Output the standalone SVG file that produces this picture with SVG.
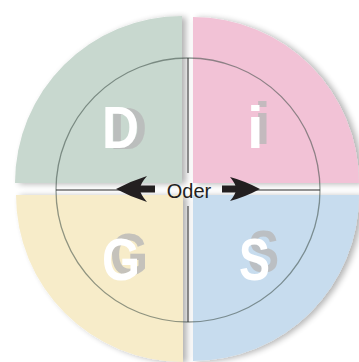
<svg xmlns="http://www.w3.org/2000/svg" width="359" height="362" viewBox="0 0 359 362">
<defs>
<filter id="sh" x="-10%" y="-10%" width="130%" height="130%">
<feGaussianBlur in="SourceAlpha" stdDeviation="3"/>
<feOffset dx="4" dy="1" result="b"/>
<feComponentTransfer><feFuncA type="linear" slope="0.3"/></feComponentTransfer>
<feMerge><feMergeNode/><feMergeNode in="SourceGraphic"/></feMerge>
</filter>
<filter id="tD" x="-20%" y="-20%" width="160%" height="160%" color-interpolation-filters="sRGB">
<feOffset in="SourceAlpha" dx="8" dy="1"/>
<feColorMatrix type="matrix" values="0 0 0 0 0.72 0 0 0 0 0.72 0 0 0 0 0.72 0 0 0 0.8 0"/>
<feMerge><feMergeNode/><feMergeNode in="SourceGraphic"/></feMerge>
</filter>
<filter id="ti" x="-50%" y="-20%" width="200%" height="160%" color-interpolation-filters="sRGB">
<feOffset in="SourceAlpha" dx="7" dy="-4"/>
<feColorMatrix type="matrix" values="0 0 0 0 0.72 0 0 0 0 0.72 0 0 0 0 0.72 0 0 0 0.8 0"/>
<feMerge><feMergeNode/><feMergeNode in="SourceGraphic"/></feMerge>
</filter>
<filter id="tG" x="-20%" y="-30%" width="160%" height="160%" color-interpolation-filters="sRGB">
<feOffset in="SourceAlpha" dx="8" dy="-5"/>
<feColorMatrix type="matrix" values="0 0 0 0 0.72 0 0 0 0 0.72 0 0 0 0 0.72 0 0 0 0.8 0"/>
<feMerge><feMergeNode/><feMergeNode in="SourceGraphic"/></feMerge>
</filter>
<filter id="tS" x="-20%" y="-30%" width="160%" height="160%" color-interpolation-filters="sRGB">
<feOffset in="SourceAlpha" dx="9" dy="-8"/>
<feColorMatrix type="matrix" values="0 0 0 0 0.72 0 0 0 0 0.72 0 0 0 0 0.72 0 0 0 0.8 0"/>
<feMerge><feMergeNode/><feMergeNode in="SourceGraphic"/></feMerge>
</filter>
<style>
.big{font-family:"Liberation Sans",Arial,sans-serif;font-weight:bold;font-size:60px;fill:#ffffff}
.ln{stroke:#2b2b2b;stroke-width:1;fill:none}
.arr{fill:#231f20}
</style>
</defs>
<rect width="359" height="362" fill="#ffffff"/>
<g id="quadrant-D">
<path d="M182,183 L15,183 A167,167 0 0 1 182,16 Z" fill="#c8d8cf" filter="url(#sh)"/>
</g>
<g id="quadrant-i">
<path d="M193,183 V17 A166,166 0 0 1 359,183 Z" fill="#f2c2d6" filter="url(#sh)"/>
</g>
<g id="quadrant-G">
<path d="M183,195 H16 A167,167 0 0 0 183,362 Z" fill="#f7ecc9" filter="url(#sh)"/>
</g>
<g id="quadrant-S">
<path d="M193,195 H359 A166,166 0 0 1 193,361 Z" fill="#c7dcee" filter="url(#sh)"/>
</g>
<circle cx="188" cy="190" r="132" fill="none" stroke="#3a4a44" stroke-opacity="0.55" stroke-width="1.3"/>
<g id="connectors">
<path class="ln" d="M56,190 H150 M228,190 H320 M188,58 V173 M188,206 V322"/>
<path class="arr" d="M116,189 Q131,181 147,176 Q140,184 140,189 Q140,194 147,202 Q131,197 116,189 Z"/>
<rect class="arr" x="139" y="185.5" width="16" height="7"/>
<rect class="arr" x="222" y="185.5" width="14" height="7"/>
<path class="arr" d="M260,189 Q245,181 230,177 Q236,184 236,189 Q236,194 230,201 Q245,197 260,189 Z"/>
</g>
<g id="label-oder">
<text x="189" y="198" text-anchor="middle" font-family="'Liberation Sans',Arial,sans-serif" font-size="20" fill="#231f20">Oder</text>
</g>
<g id="letter-D">
<text class="big" x="102" y="148" textLength="37" lengthAdjust="spacingAndGlyphs" filter="url(#tD)">D</text>
</g>
<g id="letter-i">
<text class="big" x="247" y="148" filter="url(#ti)">i</text>
</g>
<g id="letter-G">
<text class="big" x="102" y="280" textLength="38" lengthAdjust="spacingAndGlyphs" filter="url(#tG)">G</text>
</g>
<g id="letter-S">
<text class="big" x="239" y="280" textLength="31" lengthAdjust="spacingAndGlyphs" filter="url(#tS)">S</text>
</g>
</svg>
